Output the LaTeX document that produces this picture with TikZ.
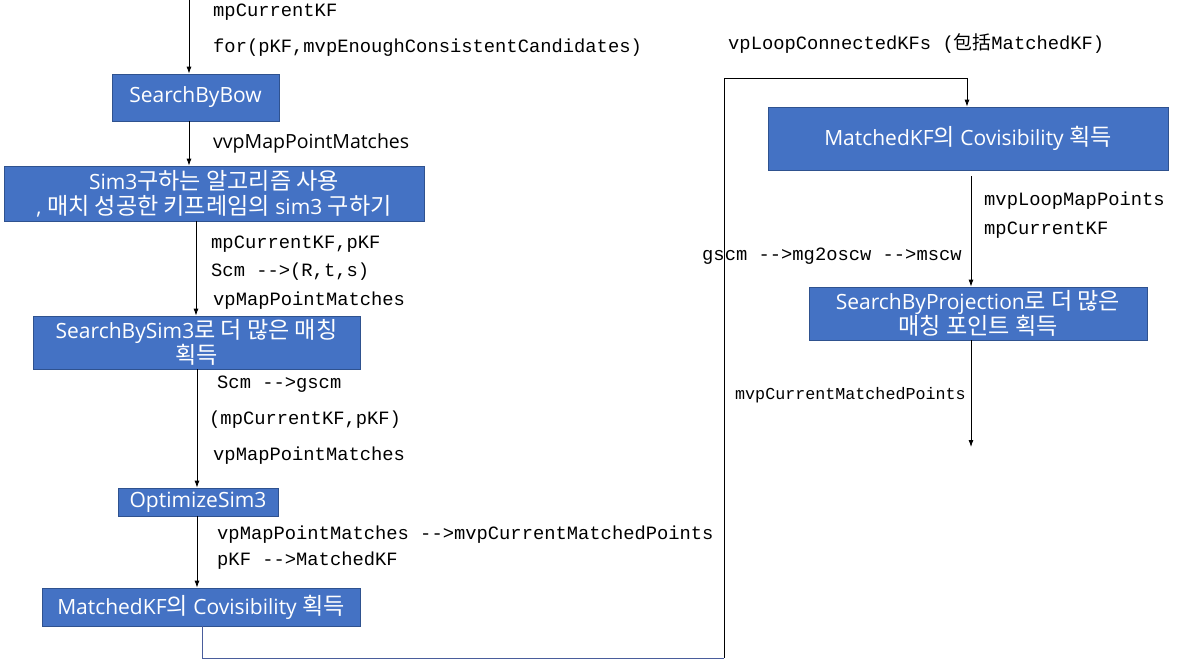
\documentclass[tikz,border=0pt]{standalone}
\usepackage{fontspec}
\usetikzlibrary{arrows.meta}
\newfontfamily\krfont[Scale=1.1]{Noto Sans CJK KR}
\newfontfamily\zhfont{Noto Sans CJK SC}
\newfontfamily\latfont{Open Sans}
\newfontfamily\labfont{Liberation Mono}
\definecolor{boxblue}{HTML}{4472C4}
\definecolor{boxedge}{HTML}{2F528F}
\definecolor{loopblue}{HTML}{4A5D9C}
\newcommand{\K}[1]{{\krfont #1}}
\tikzset{
  box/.style={draw=boxedge, line width=0.8pt, fill=boxblue, text=white, align=center, inner sep=0pt,
    font=\latfont\fontsize{21}{25}\selectfont},
  lab/.style={anchor=west, inner sep=0pt, font=\labfont\fontsize{18.8}{22}\selectfont},
  arr/.style={line width=0.8pt, -{Latex[length=7pt,width=5pt]}},
  ln/.style={line width=0.8pt}
}
\begin{document}
\begin{tikzpicture}[x=1pt,y=-1pt]
\useasboundingbox (0,0) rectangle (1186,665);
% boxes
\node[box, minimum width=167pt, minimum height=47pt] (bow) at (195.5,97.5) {SearchByBow};
\node[box, minimum width=420pt, minimum height=55pt] (sim3) at (214,193.5)
  {Sim3\K{구하는 알고리즘 사용}\\, \K{매치 성공한 키프레임의} sim3 \K{구하기}};
\node[box, minimum width=327pt, minimum height=53pt] (sbs) at (196.5,342.5)
  {SearchBySim3\K{로 더 많은 매칭}\\\K{획득}};
\node[box, minimum width=160pt, minimum height=28pt] (opt) at (198,502) {OptimizeSim3};
\node[box, minimum width=318pt, minimum height=38pt] (cov1) at (201,607)
  {MatchedKF\K{의} Covisibility \K{획득}};
\node[box, minimum width=400pt, minimum height=63pt] (cov2) at (968,138.5)
  {MatchedKF\K{의} Covisibility \K{획득}};
\node[box, minimum width=338pt, minimum height=53pt] (proj) at (978,313.5)
  {SearchByProjection\K{로 더 많은}\\\K{매칭 포인트 획득}};
% coordinates
\coordinate (top) at (189,0);
\coordinate (l1) at (202,658);
\coordinate (l2) at (724,658);
\coordinate (l3) at (724,78);
\coordinate (l4) at (967,78);
\coordinate (r1) at (971,176);
\coordinate (rend) at (971,447);
% arrows
\draw[arr] (top) -- (top |- bow.north);
\draw[arr] (bow.south -| top) -- (sim3.north -| top);
\draw[arr] (sim3.south -| 196,0) -- (sbs.north -| 196,0);
\draw[arr] (sbs.south -| 197,0) -- (opt.north -| 197,0);
\draw[arr] (opt.south -| 197,0) -- (cov1.north -| 197,0);
\draw[ln, draw=loopblue] (cov1.south -| l1) -- (l1) -- (l2);
\draw[arr] (l2) -- (l3) -- (l4) -- (l4 |- cov2.north);
\draw[arr] (r1) -- (r1 |- proj.north);
\draw[arr] (proj.south -| rend) -- (rend);
% labels
\node[lab] (t1) at (213,12) {mpCurrentKF};
\node[lab] (t2) at (213,48) {for(pKF,mvpEnoughConsistentCandidates)};
\node[lab, font=\latfont\fontsize{19.5}{22}\selectfont] (t3) at (213,143) {vvpMapPointMatches};
\node[lab] (t4) at (211,244) {mpCurrentKF,pKF};
\node[lab] (t5) at (211,272) {Scm -->(R,t,s)};
\node[lab] (t6) at (213,301) {vpMapPointMatches};
\node[lab] (t7) at (217,384) {Scm -->gscm};
\node[lab] (t8) at (209,420) {(mpCurrentKF,pKF)};
\node[lab] (t9) at (213,456) {vpMapPointMatches};
\node[lab] (t10) at (217,535) {vpMapPointMatches -->mvpCurrentMatchedPoints};
\node[lab] (t11) at (217,561) {pKF -->MatchedKF};
\node[lab] (t12) at (728,44) {vpLoopConnectedKFs (\zhfont 包括\labfont MatchedKF)};
\node[lab] (t13) at (984,201) {mvpLoopMapPoints};
\node[lab] (t14) at (984,230) {mpCurrentKF};
\node[lab] (t15) at (702,256) {gscm -->mg2oscw -->mscw};
\node[lab, font=\labfont\fontsize{16.7}{20}\selectfont] (t16) at (735,395) {mvpCurrentMatchedPoints};
\end{tikzpicture}
\end{document}
